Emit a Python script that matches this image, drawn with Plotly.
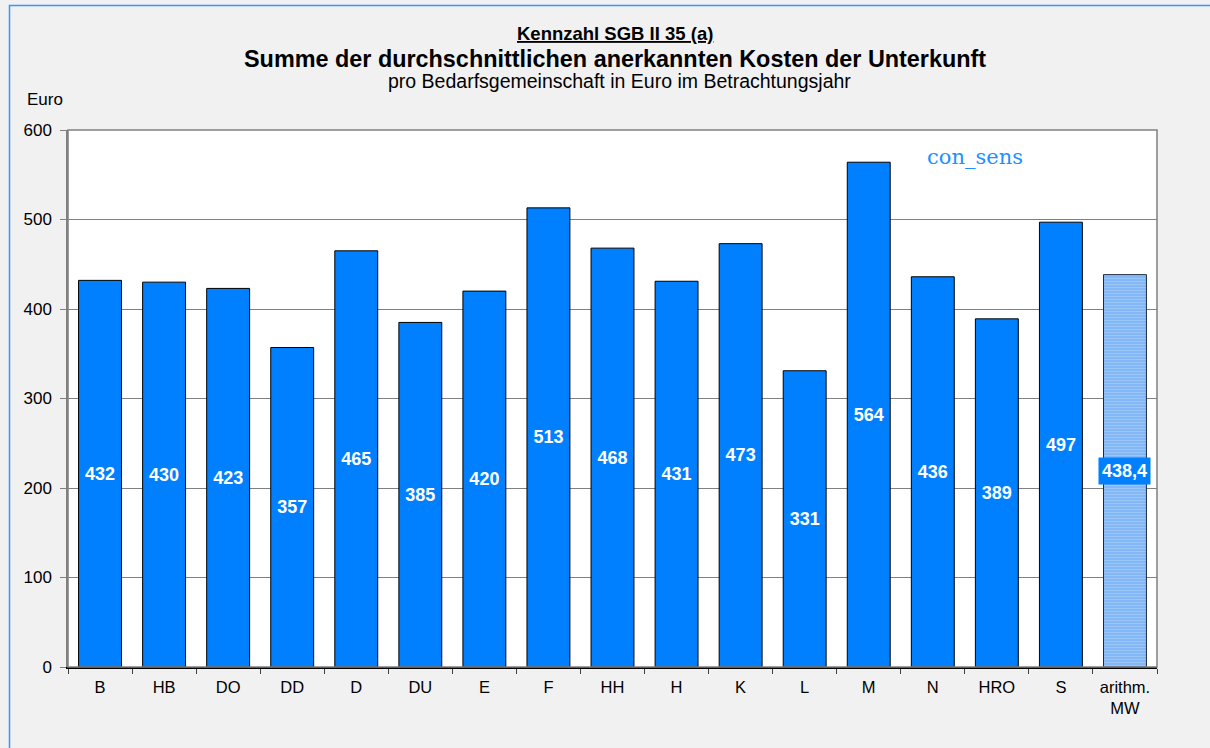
import plotly.graph_objects as go

categories = ["B", "HB", "DO", "DD", "D", "DU", "E", "F", "HH", "H", "K", "L", "M", "N", "HRO", "S"]
values = [432, 430, 423, 357, 465, 385, 420, 513, 468, 431, 473, 331, 564, 436, 389, 497]
mean_label = "arithm.<br>MW"
mean_value = 438.4
y_ticks = [0, 100, 200, 300, 400, 500, 600]

W, H = 1210, 748
ml, mr, mt, mb = 68, 53, 130, 81
pw, ph = W - ml - mr, H - mt - mb

def px_x(x):
    return (x - ml) / pw

def px_y(y):
    return 1 - (y - mt) / ph

fig = go.Figure()
fig.add_trace(go.Bar(
    x=categories, y=values,
    marker=dict(color="#0080ff", line=dict(color="black", width=1)),
    text=[str(v) for v in values], textposition="inside", insidetextanchor="middle",
    textfont=dict(family="Arial", size=18, color="white", weight="bold"),
    textangle=0, cliponaxis=False, showlegend=False, hoverinfo="x+y",
))
fig.add_trace(go.Bar(
    x=[mean_label], y=[mean_value],
    marker=dict(color="#80b8f8", line=dict(color="#1a2a40", width=1),
                pattern=dict(shape="-", fgcolor="#b8d8fc", bgcolor="#7fb4f4", size=3, solidity=0.45)),
    showlegend=False, hoverinfo="x+y",
))
fig.add_annotation(
    x=mean_label, y=mean_value / 2, xref="x", yref="y",
    text="<b>438,4</b>", showarrow=False, xanchor="center", yanchor="middle",
    font=dict(family="Arial", size=18, color="white"),
    bgcolor="#0080ff", borderpad=3,
)

def label(x, y, text, size, family="Arial", color="black", xanchor="center"):
    fig.add_annotation(x=px_x(x), y=px_y(y), xref="paper", yref="paper", showarrow=False,
                       xanchor=xanchor, yanchor="middle", text=text,
                       font=dict(family=family, size=size, color=color))

# titles
label(615, 33, "<b><u>Kennzahl SGB II 35 (a)</u></b>", 18.5)
label(615, 59, "<b>Summe der durchschnittlichen anerkannten Kosten der Unterkunft</b>", 23.4)
label(619, 81, "pro Bedarfsgemeinschaft in Euro im Betrachtungsjahr", 19.5)
label(25, 99, "Euro", 17, xanchor="left")
label(975, 157, "con_sens", 21, family="DejaVu Serif", color="#1e90ff")

# outer border and plot frame
fig.add_shape(type="rect", xref="paper", yref="paper",
              x0=px_x(9.5), x1=px_x(1230), y0=px_y(5.5), y1=px_y(770),
              line=dict(color="#3399ff", width=1.5), layer="below")
fig.add_shape(type="rect", xref="paper", yref="paper", x0=0, x1=1, y0=0, y1=1,
              line=dict(color="#808080", width=1.5), layer="above")

fig.update_layout(
    width=W, height=H,
    margin=dict(l=ml, r=mr, t=mt, b=mb),
    paper_bgcolor="#f1f1f1", plot_bgcolor="white",
    bargap=0.33,
    font=dict(family="Arial", size=16.5, color="black"),
    showlegend=False,
)
fig.update_xaxes(
    showline=True, linecolor="black", linewidth=1.5,
    ticks="outside", tickson="boundaries", ticklen=5, tickcolor="#404040",
    tickfont=dict(family="Arial", size=16.5, color="black"),
    ticklabelstandoff=4, showgrid=False,
)
fig.update_yaxes(
    range=[0, 600], tickvals=y_ticks, showline=True, linecolor="#808080", linewidth=1.5,
    ticks="outside", ticklen=6, tickcolor="#808080",
    showgrid=True, gridcolor="#808080", gridwidth=1, ticklabelstandoff=5,
    tickfont=dict(family="Arial", size=17, color="black"), zeroline=False,
)

fig.write_html("out.html", config={"displayModeBar": False},
               post_script="document.body.style.margin='0';")
